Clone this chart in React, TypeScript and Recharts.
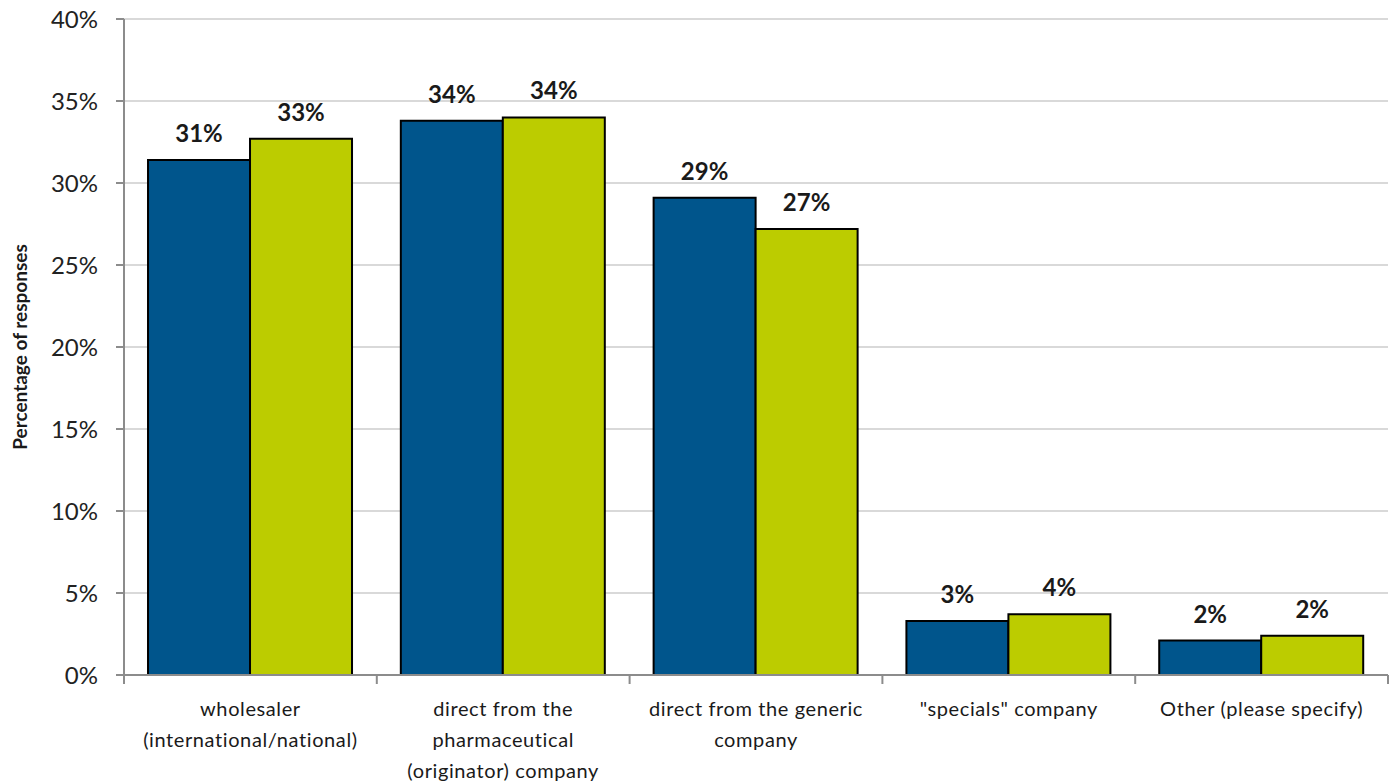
import React from 'react';
import { BarChart, Bar, XAxis, YAxis, CartesianGrid, LabelList } from 'recharts';

// ── Data ─────────────────────────────────────────────────────────────────
const categories = [
  ['wholesaler', '(international/national)'],
  ['direct from the', 'pharmaceutical', '(originator) company'],
  ['direct from the generic', 'company'],
  ['"specials" company'],
  ['Other (please specify)'],
];
const seriesA = [31.4, 33.8, 29.1, 3.3, 2.1];
const seriesB = [32.7, 34.0, 27.2, 3.7, 2.4];
const yTicks = [0, 5, 10, 15, 20, 25, 30, 35, 40];

const data = categories.map((lines, i) => ({ name: lines.join(' '), lines, a: seriesA[i], b: seriesB[i] }));

const W = 1392;
const H = 782;
const LEFT = 124;
const RIGHT = 4;
const BAND = (W - LEFT - RIGHT) / categories.length;
const FONT = 'Lato, "Open Sans", sans-serif';
const AXIS = '#8c8c8c';

// eslint-disable-next-line @typescript-eslint/no-explicit-any
const XTick = ({ x, y, index }: any) => {
  const lines = categories[index] || [];
  return (
    <g>
      <line x1={x - BAND / 2} y1={y - 8} x2={x - BAND / 2} y2={y + 1} stroke={AXIS} strokeWidth={2} />
      {index === categories.length - 1 && (
        <line x1={x + BAND / 2} y1={y - 8} x2={x + BAND / 2} y2={y + 1} stroke={AXIS} strokeWidth={2} />
      )}
      {lines.map((l, i) => (
        <text key={i} x={x} y={y + 33 + i * 31} textAnchor="middle" fontSize={20} letterSpacing={0.6}
          fill="#1a1a1a" fontFamily={FONT}>
          {l}
        </text>
      ))}
    </g>
  );
};

const fmt = (v: unknown) => `${Math.round(Number(v))}%`;
const labelStyle = { fontSize: 24, fontWeight: 700, fill: '#1a1a1a', fontFamily: FONT };

export default function App() {
  return (
    <div style={{ position: 'absolute', left: 0, top: 0, width: W, height: H, background: '#fff' }}>
      <BarChart
        width={W}
        height={H}
        data={data}
        margin={{ top: 19, right: RIGHT, left: 0, bottom: 0 }}
        barCategoryGap="9.5%"
        barGap={0}
      >
        <CartesianGrid vertical={false} stroke="#d9d9d9" strokeWidth={2} />
        <XAxis
          dataKey="name"
          height={107}
          interval={0}
          axisLine={{ stroke: AXIS, strokeWidth: 2 }}
          tickLine={false}
          tick={<XTick />}
        />
        <YAxis
          width={LEFT}
          domain={[0, 40]}
          ticks={yTicks}
          tickFormatter={(v) => `${v}%`}
          axisLine={{ stroke: AXIS, strokeWidth: 2 }}
          tickLine={{ stroke: AXIS, strokeWidth: 2 }}
          tickSize={8}
          tick={{ fontSize: 24, fill: '#222', fontFamily: FONT, dx: -16 }}
          label={{
            value: 'Percentage of responses',
            angle: -90,
            position: 'insideLeft',
            offset: 20,
            style: { textAnchor: 'middle', fontSize: 19, fontWeight: 700, fill: '#1a1a1a', fontFamily: FONT },
          }}
        />
        <Bar dataKey="a" fill="#00558c" stroke="#000" strokeWidth={2} isAnimationActive={false}>
          <LabelList dataKey="a" position="top" offset={18} formatter={fmt} style={labelStyle} />
        </Bar>
        <Bar dataKey="b" fill="#bccc00" stroke="#000" strokeWidth={2} isAnimationActive={false}>
          <LabelList dataKey="b" position="top" offset={18} formatter={fmt} style={labelStyle} />
        </Bar>
      </BarChart>
    </div>
  );
}
